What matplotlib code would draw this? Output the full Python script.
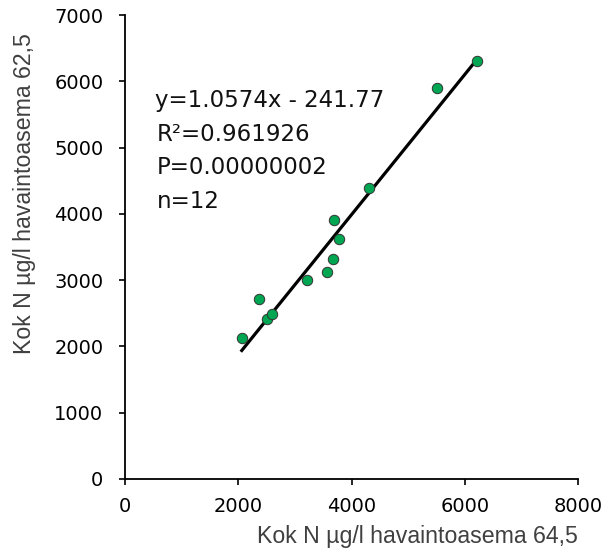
import numpy as np
import matplotlib
matplotlib.use("Agg")
import matplotlib.pyplot as plt

# Kok N (µg/l) at two observation stations
x_645 = [2062, 2373, 2503, 2591, 3210, 3575, 3681, 3693, 3787, 4311, 5507, 6214]
y_625 = [2131, 2710, 2409, 2489, 3002, 3118, 3314, 3906, 3615, 4394, 5902, 6305]

slope, intercept = 1.0574, -241.77
stats = ["y=1.0574x - 241.77", "R²=0.961926", "P=0.00000002", "n=12"]

plt.rcParams['font.family'] = ['Liberation Sans', 'DejaVu Sans']

fig = plt.figure(figsize=(6.14, 5.54), dpi=100)
ax = fig.add_axes([0.2036, 0.1354, 0.7378, 0.8375])

xs = np.array([min(x_645), max(x_645)])
ax.plot(xs, slope * xs + intercept, color='black', lw=2.3, zorder=2)
ax.plot(x_645, y_625, 'o', ms=7.5, mfc='#00a651', mec='#333333', mew=0.7, zorder=3)

ax.set_xlim(0, 8000)
ax.set_ylim(0, 7000)
ax.set_xticks(range(0, 8001, 2000))
ax.set_yticks(range(0, 7001, 1000))
ax.tick_params(direction='out', length=4, width=1.2, colors='black')
ax.tick_params(axis='both', labelsize=14, labelfontfamily='DejaVu Sans')
ax.tick_params(axis='x', pad=9)
ax.tick_params(axis='y', pad=11.5)
for s in ['top', 'right']:
    ax.spines[s].set_visible(False)
for s in ['left', 'bottom']:
    ax.spines[s].set_linewidth(1.3)

ax.set_xlabel("Kok N µg/l havaintoasema 64,5", fontsize=16.7, color='#404040', ha='right', va='center')
ax.set_ylabel("Kok N µg/l havaintoasema 62,5", fontsize=16.7, color='#404040', ha='right', va='center')
ax.xaxis.set_label_coords(1.0, -0.125)
ax.yaxis.set_label_coords(-0.221, 0.961)

for i, s in enumerate(stats):
    ax.text(0.066 if i == 0 else 0.07, 0.815 - i * 0.0722, s, transform=ax.transAxes,
            fontsize=16.5, family=['DejaVu Sans'], va='center', ha='left', color='#111111')

fig.savefig("out.png", dpi=100)
